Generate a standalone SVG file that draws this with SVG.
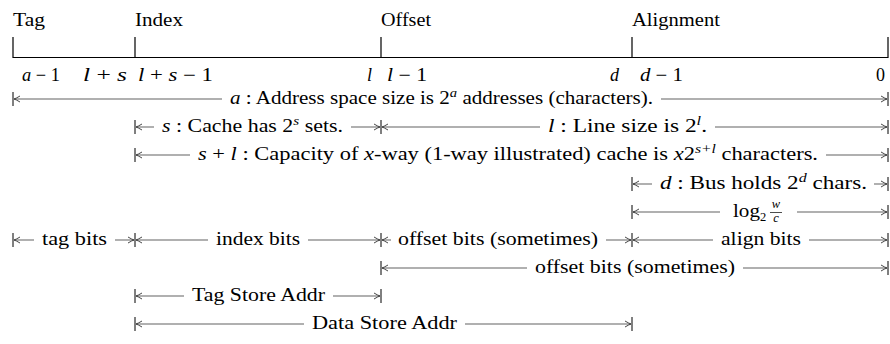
<svg xmlns="http://www.w3.org/2000/svg" width="890" height="344" viewBox="0 0 890 344">
<defs>
<marker id="ah" markerUnits="userSpaceOnUse" markerWidth="10" markerHeight="10" viewBox="-8 -5 10 10" refX="0" refY="0" orient="auto-start-reverse">
<path d="M-6,-3 Q-2,-0.6 0,0 Q-2,0.6 -6,3" fill="none" stroke="#333" stroke-width="0.9"/>
</marker>
</defs>
<style>
text{font-family:"Liberation Serif","Times New Roman",serif;font-size:18px;fill:#000}
.m{font-style:italic}
.sup{font-size:12.5px}
.arrL{stroke:#444;stroke-width:0.85;fill:none;marker-start:url(#ah)}
.arrR{stroke:#444;stroke-width:0.85;fill:none;marker-end:url(#ah)}
.bar{stroke:#000;stroke-width:1}
.frame{stroke:#000;stroke-width:1.2;fill:none}
</style>

<g id="fields">
<text x="13" y="26" textLength="32" lengthAdjust="spacingAndGlyphs">Tag</text>
<text x="135" y="26" textLength="48" lengthAdjust="spacingAndGlyphs">Index</text>
<text x="381" y="26" textLength="50" lengthAdjust="spacingAndGlyphs">Offset</text>
<text x="632" y="26" textLength="88" lengthAdjust="spacingAndGlyphs">Alignment</text>
<path class="frame" d="M13,37V57.5H888V37M135,37V57.5M381,37V57.5M632,37V57.5"/>
</g>

<g id="bit-numbers">
<text x="22" y="81" textLength="38" lengthAdjust="spacingAndGlyphs"><tspan class="m">a</tspan> − 1</text>
<text x="83" y="81" textLength="44" lengthAdjust="spacingAndGlyphs"><tspan class="m">l</tspan> + <tspan class="m">s</tspan></text>
<text x="138" y="81" textLength="75" lengthAdjust="spacingAndGlyphs"><tspan class="m">l</tspan> + <tspan class="m">s</tspan> − 1</text>
<text x="367" y="81" class="m">l</text>
<text x="387" y="81" textLength="40" lengthAdjust="spacingAndGlyphs"><tspan class="m">l</tspan> − 1</text>
<text x="610" y="81" class="m">d</text>
<text x="640" y="81" textLength="43" lengthAdjust="spacingAndGlyphs"><tspan class="m">d</tspan> − 1</text>
<text x="885" y="81" text-anchor="end">0</text>
</g>

<g id="connectors">
<path class="arrL" d="M14,99H222"/><path class="arrR" d="M661,99H887"/>
<path class="arrL" d="M136,127H154"/><path class="arrR" d="M351,127H380"/>
<path class="arrL" d="M382,127H540"/><path class="arrR" d="M715,127H887"/>
<path class="arrL" d="M136,155H190"/><path class="arrR" d="M826,155H887"/>
<path class="arrL" d="M633,184H652"/><path class="arrR" d="M874,184H887"/>
<path class="arrL" d="M633,212H720"/><path class="arrR" d="M797,212H887"/>
<path class="arrL" d="M14,240H34"/><path class="arrR" d="M115,240H134"/>
<path class="arrL" d="M136,240H208"/><path class="arrR" d="M308,240H380"/>
<path class="arrL" d="M382,240H391"/><path class="arrR" d="M606,240H631"/>
<path class="arrL" d="M633,240H713"/><path class="arrR" d="M809,240H887"/>
<path class="arrL" d="M382,268H527"/><path class="arrR" d="M743,268H887"/>
<path class="arrL" d="M136,296H184"/><path class="arrR" d="M333,296H380"/>
<path class="arrL" d="M136,324H304"/><path class="arrR" d="M465,324H631"/>
<path class="bar" d="M13,92V106M888,92V106M135,120V134M381,120V134M888,120V134M135,148V162M888,148V162M632,177V191M888,177V191M632,205V219M888,205V219M13,233V247M135,233V247M381,233V247M632,233V247M888,233V247M381,261V275M888,261V275M135,289V303M381,289V303M135,317V331M632,317V331"/>
</g>

<g id="address-space">
<text x="230" y="104" textLength="423" lengthAdjust="spacingAndGlyphs"><tspan class="m">a</tspan> :  Address space size is 2<tspan class="sup m" dy="-7">a</tspan><tspan dy="7"> addresses (characters).</tspan></text>
</g>
<g id="sets">
<text x="162" y="132" textLength="181" lengthAdjust="spacingAndGlyphs"><tspan class="m">s</tspan> :  Cache has 2<tspan class="sup m" dy="-7">s</tspan><tspan dy="7"> sets.</tspan></text>
</g>
<g id="line-size">
<text x="548" y="132" textLength="159" lengthAdjust="spacingAndGlyphs"><tspan class="m">l</tspan> :  Line size is 2<tspan class="sup m" dy="-7">l</tspan><tspan dy="7">.</tspan></text>
</g>
<g id="capacity">
<text x="198" y="160" textLength="620" lengthAdjust="spacingAndGlyphs"><tspan class="m">s</tspan> + <tspan class="m">l</tspan> :  Capacity of <tspan class="m">x</tspan>-way (1-way illustrated) cache is <tspan class="m">x</tspan>2<tspan class="sup m" dy="-7">s+l</tspan><tspan dy="7"> characters.</tspan></text>
</g>
<g id="bus">
<text x="660" y="189" textLength="207" lengthAdjust="spacingAndGlyphs"><tspan class="m">d</tspan> :  Bus holds 2<tspan class="sup m" dy="-7">d</tspan><tspan dy="7"> chars.</tspan></text>
</g>
<g id="log">
<text x="733" y="217" textLength="27" lengthAdjust="spacingAndGlyphs">log</text>
<text x="760" y="221" class="sup">2</text>
<text x="776" y="208" class="sup m" text-anchor="middle">w</text>
<path d="M770,212.5H782" stroke="#000" stroke-width="0.7"/>
<text x="776" y="222" class="sup m" text-anchor="middle">c</text>
</g>
<g id="tag-bits">
<text x="42" y="245" textLength="65" lengthAdjust="spacingAndGlyphs">tag bits</text>
</g>
<g id="index-bits">
<text x="216" y="245" textLength="84" lengthAdjust="spacingAndGlyphs">index bits</text>
</g>
<g id="offset-bits">
<text x="398" y="245" textLength="200" lengthAdjust="spacingAndGlyphs">offset bits (sometimes)</text>
</g>
<g id="align-bits">
<text x="721" y="245" textLength="80" lengthAdjust="spacingAndGlyphs">align bits</text>
</g>
<g id="offset-bits-2">
<text x="535" y="273" textLength="200" lengthAdjust="spacingAndGlyphs">offset bits (sometimes)</text>
</g>
<g id="tag-store">
<text x="192" y="301" textLength="133" lengthAdjust="spacingAndGlyphs">Tag Store Addr</text>
</g>
<g id="data-store">
<text x="312" y="329" textLength="145" lengthAdjust="spacingAndGlyphs">Data Store Addr</text>
</g>
</svg>
